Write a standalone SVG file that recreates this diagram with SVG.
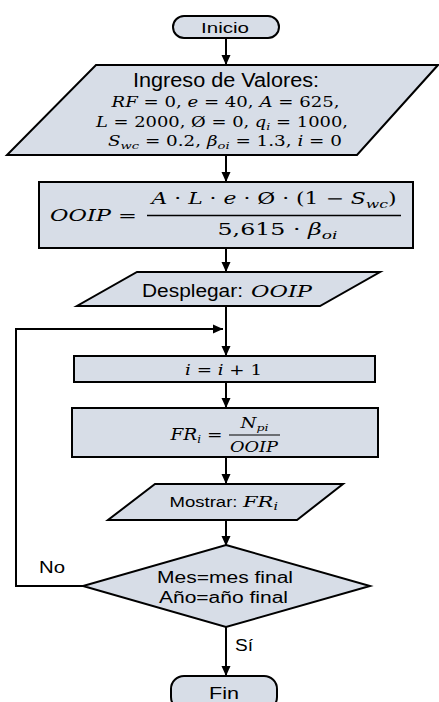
<svg xmlns="http://www.w3.org/2000/svg" width="439" height="702" viewBox="0 0 439 702">
<defs>
<style>
.shape{fill:#D7DDE7;stroke:#000;stroke-width:2}
.conn{fill:none;stroke:#000;stroke-width:2}
.sans{font-family:"Liberation Sans",Arial,sans-serif;fill:#000}
.math{font-family:"DejaVu Serif","Liberation Serif",serif;fill:#000}
.it{font-style:italic}
</style>
<marker id="arr" markerUnits="userSpaceOnUse" markerWidth="10" markerHeight="10" refX="10" refY="5" orient="auto">
<path d="M0,0.5 L10,5 L0,9.5 z" fill="#000"/>
</marker>
</defs>
<rect width="439" height="702" fill="#fff"/>

<g id="connectors">
<line class="conn" x1="226" y1="38" x2="226" y2="65" marker-end="url(#arr)"/>
<line class="conn" x1="226" y1="155" x2="226" y2="182" marker-end="url(#arr)"/>
<line class="conn" x1="226" y1="248" x2="226" y2="272" marker-end="url(#arr)"/>
<line class="conn" x1="226" y1="306" x2="226" y2="356" marker-end="url(#arr)"/>
<polyline class="conn" points="83,586 16,586 16,329 223,329" marker-end="url(#arr)"/>
<line class="conn" x1="226" y1="382" x2="226" y2="408" marker-end="url(#arr)"/>
<line class="conn" x1="226" y1="457" x2="226" y2="484" marker-end="url(#arr)"/>
<line class="conn" x1="226" y1="520" x2="226" y2="546" marker-end="url(#arr)"/>
<line class="conn" x1="226" y1="627" x2="226" y2="676" marker-end="url(#arr)"/>
<text class="sans" x="39" y="572.5" font-size="16" textLength="26" lengthAdjust="spacingAndGlyphs">No</text>
<text class="sans" x="235" y="651" font-size="16" textLength="18" lengthAdjust="spacingAndGlyphs">Sí</text>
</g>

<g id="inicio">
<rect class="shape" x="173" y="16" width="106" height="22" rx="11"/>
<text class="sans" x="225" y="32.5" font-size="15.5" text-anchor="middle" textLength="48" lengthAdjust="spacingAndGlyphs">Inicio</text>
</g>

<g id="ingreso">
<polygon class="shape" points="96,65 438,65 357,155 7,155"/>
<text class="sans" x="226" y="87" font-size="20" text-anchor="middle" textLength="186" lengthAdjust="spacingAndGlyphs">Ingreso de Valores:</text>
<text class="math" x="225.5" y="107" font-size="14" text-anchor="middle" textLength="228" lengthAdjust="spacingAndGlyphs"><tspan class="it">RF</tspan> = 0, <tspan class="it">e</tspan> = 40, <tspan class="it">A</tspan> = 625,</text>
<text class="math" x="222" y="127" font-size="14" text-anchor="middle" textLength="252" lengthAdjust="spacingAndGlyphs"><tspan class="it">L</tspan> = 2000, Ø = 0, <tspan class="it">q</tspan><tspan class="it" font-size="10" dy="3">i</tspan><tspan dy="-3"> = 1000,</tspan></text>
<text class="math" x="225" y="145.5" font-size="14" text-anchor="middle" textLength="234" lengthAdjust="spacingAndGlyphs"><tspan class="it">S</tspan><tspan class="it" font-size="10" dy="3">wc</tspan><tspan dy="-3"> = 0.2, </tspan><tspan class="it">β</tspan><tspan class="it" font-size="10" dy="3">oi</tspan><tspan dy="-3"> = 1.3, </tspan><tspan class="it">i</tspan> = 0</text>
</g>

<g id="ooip">
<rect class="shape" x="39" y="182" width="374" height="66" stroke-width="2.5"/>
<text class="math it" x="50" y="221" font-size="16" textLength="87" lengthAdjust="spacingAndGlyphs">OOIP <tspan font-style="normal">=</tspan></text>
<text class="math" x="274" y="204" font-size="16" text-anchor="middle" textLength="245" lengthAdjust="spacingAndGlyphs"><tspan class="it">A</tspan> · <tspan class="it">L</tspan> · <tspan class="it">e</tspan> · Ø · (1 − <tspan class="it">S</tspan><tspan class="it" font-size="11.5" dy="4">wc</tspan><tspan dy="-4">)</tspan></text>
<line x1="147" y1="215.5" x2="401" y2="215.5" stroke="#000" stroke-width="1.5"/>
<text class="math" x="277.5" y="235" font-size="16" text-anchor="middle" textLength="120" lengthAdjust="spacingAndGlyphs">5,615 · <tspan class="it">β</tspan><tspan class="it" font-size="11.5" dy="4">oi</tspan></text>
</g>

<g id="desplegar">
<polygon class="shape" points="137,272 380,272 320,306 77,306"/>
<text class="sans" x="142" y="296.5" font-size="17.5" textLength="101" lengthAdjust="spacingAndGlyphs">Desplegar:</text>
<text class="math it" x="251" y="296.5" font-size="17.5" textLength="61" lengthAdjust="spacingAndGlyphs">OOIP</text>
</g>

<g id="incremento">
<rect class="shape" x="74" y="356" width="301" height="26"/>
<text class="math" x="223.5" y="374.5" font-size="15" text-anchor="middle" textLength="77" lengthAdjust="spacingAndGlyphs"><tspan class="it">i</tspan> = <tspan class="it">i</tspan> + 1</text>
</g>

<g id="fr">
<rect class="shape" x="72" y="408" width="306" height="49"/>
<text class="math" x="170.5" y="439.5" font-size="17" textLength="52" lengthAdjust="spacingAndGlyphs"><tspan class="it">FR</tspan><tspan class="it" font-size="11" dy="3">i</tspan><tspan dy="-3"> =</tspan></text>
<text class="math it" x="254.5" y="427.5" font-size="14.5" text-anchor="middle" textLength="28" lengthAdjust="spacingAndGlyphs">N<tspan font-size="10" dy="3">pi</tspan></text>
<line x1="229" y1="435" x2="280" y2="435" stroke="#000" stroke-width="1.2"/>
<text class="math it" x="254" y="451.5" font-size="14.5" text-anchor="middle" textLength="48" lengthAdjust="spacingAndGlyphs">OOIP</text>
</g>

<g id="mostrar">
<polygon class="shape" points="155,484 343,484 297,520 108,520"/>
<text class="sans" x="169.5" y="506.5" font-size="15.5" textLength="68" lengthAdjust="spacingAndGlyphs">Mostrar:</text>
<text class="math it" x="243" y="506.5" font-size="15.5" textLength="35" lengthAdjust="spacingAndGlyphs">FR<tspan font-size="10.5" dy="3">i</tspan></text>
</g>

<g id="decision">
<polygon class="shape" points="226,545 370,586 226,627 83,586"/>
<text class="sans" x="225" y="583" font-size="16" text-anchor="middle" textLength="136" lengthAdjust="spacingAndGlyphs">Mes=mes final</text>
<text class="sans" x="223.5" y="603" font-size="16" text-anchor="middle" textLength="129" lengthAdjust="spacingAndGlyphs">Año=año final</text>
</g>

<g id="fin">
<rect class="shape" x="171" y="676" width="106" height="34" rx="13"/>
<text class="sans" x="224" y="698.5" font-size="16" text-anchor="middle" textLength="30" lengthAdjust="spacingAndGlyphs">Fin</text>
</g>
</svg>
